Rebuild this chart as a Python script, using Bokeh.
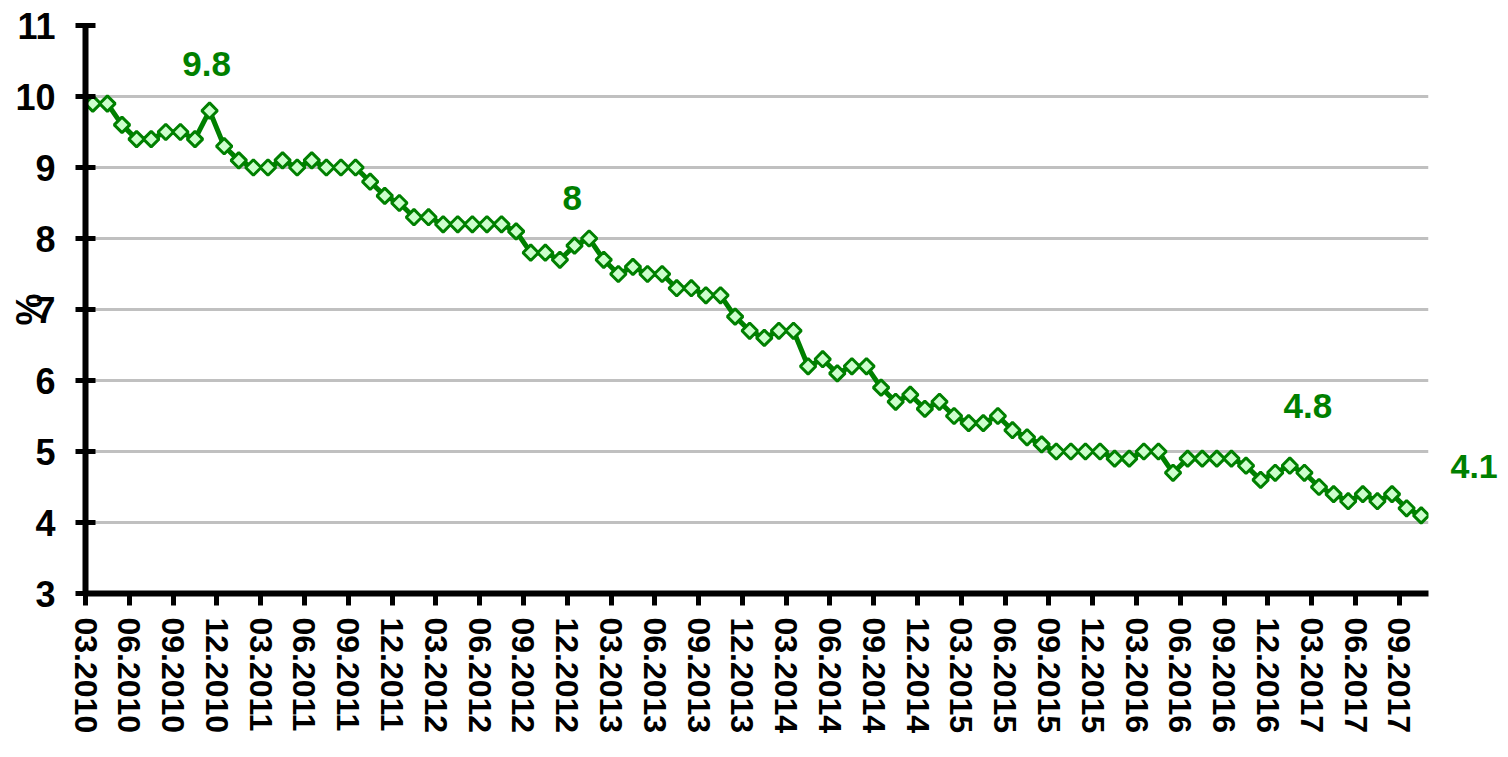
from math import pi
from bokeh.plotting import figure
from bokeh.models import Range1d, FixedTicker, Label, LinearAxis
from bokeh.embed import file_html
from bokeh.resources import INLINE

# Monthly values, 03.2010 .. 10.2017 (%)
values = [
    9.9, 9.9, 9.6, 9.4, 9.4, 9.5, 9.5, 9.4, 9.8, 9.3,
    9.1, 9.0, 9.0, 9.1, 9.0, 9.1, 9.0, 9.0, 9.0, 8.8,
    8.6, 8.5, 8.3, 8.3, 8.2, 8.2, 8.2, 8.2, 8.2, 8.1,
    7.8, 7.8, 7.7, 7.9, 8.0, 7.7, 7.5, 7.6, 7.5, 7.5,
    7.3, 7.3, 7.2, 7.2, 6.9, 6.7, 6.6, 6.7, 6.7, 6.2,
    6.3, 6.1, 6.2, 6.2, 5.9, 5.7, 5.8, 5.6, 5.7, 5.5,
    5.4, 5.4, 5.5, 5.3, 5.2, 5.1, 5.0, 5.0, 5.0, 5.0,
    4.9, 4.9, 5.0, 5.0, 4.7, 4.9, 4.9, 4.9, 4.9, 4.8,
    4.6, 4.7, 4.8, 4.7, 4.5, 4.4, 4.3, 4.4, 4.3, 4.4,
    4.2, 4.1,
]

tick_labels = [
    "03.2010", "06.2010", "09.2010", "12.2010",
    "03.2011", "06.2011", "09.2011", "12.2011",
    "03.2012", "06.2012", "09.2012", "12.2012",
    "03.2013", "06.2013", "09.2013", "12.2013",
    "03.2014", "06.2014", "09.2014", "12.2014",
    "03.2015", "06.2015", "09.2015", "12.2015",
    "03.2016", "06.2016", "09.2016", "12.2016",
    "03.2017", "06.2017", "09.2017",
]

y_ticks = [3, 4, 5, 6, 7, 8, 9, 10, 11]
y_title = "%"

# indices of the annotated points (the last one is labelled beside the plot)
annotated = [8, 34, 82]
last_index = len(values) - 1

GREEN = "#008000"
FONT = "Liberation Sans"

idx = list(range(len(values)))

p = figure(width=1500, height=749, output_backend="svg", toolbar_location=None,
           x_range=Range1d(-0.5, len(values) - 0.5), y_range=Range1d(3, 11),
           min_border_left=85, min_border_right=70, min_border_top=25, min_border_bottom=156)
p.outline_line_color = None
p.background_fill_color = "white"
p.border_fill_color = "white"

# x axis: ticks on category boundaries every 3 months
tick_pos = [i - 0.5 for i in range(0, len(values), 3)][:len(tick_labels)]
p.xaxis.ticker = FixedTicker(ticks=tick_pos)
p.xaxis.major_label_overrides = {t: lab for t, lab in zip(tick_pos, tick_labels)}
p.xaxis.major_label_orientation = "vertical"
p.xaxis.minor_tick_line_color = None
p.xaxis.major_tick_in = 0
p.xaxis.major_tick_out = 12
p.xaxis.major_label_standoff = 12

p.yaxis.ticker = FixedTicker(ticks=y_ticks)
p.yaxis.minor_tick_line_color = None
p.yaxis.major_tick_in = 10
p.yaxis.major_tick_out = 10
p.yaxis.major_label_standoff = 20
p.yaxis.axis_label = y_title
p.yaxis.axis_label_standoff = -38
p.yaxis.axis_label_text_font = FONT
p.yaxis.axis_label_text_font_style = "bold"
p.yaxis.axis_label_text_font_size = "36px"
p.yaxis.axis_label_text_color = "black"

for ax, fs in ((p.xaxis, "32px"), (p.yaxis, "36px")):
    ax.axis_line_color = "black"
    ax.axis_line_width = 6
    ax.major_tick_line_color = "black"
    ax.major_tick_line_width = 5
    ax.major_label_text_font = FONT
    ax.major_label_text_font_style = "bold"
    ax.major_label_text_font_size = fs
    ax.major_label_text_color = "black"

p.xgrid.visible = False
p.ygrid.grid_line_color = "#c0c0c0"
p.ygrid.grid_line_width = 3

p.line(idx, values, line_color=GREEN, line_width=5)
p.scatter(idx, values, marker="square", size=11, angle=pi / 4,
          fill_color="#ccffcc", line_color=GREEN, line_width=3)


def fmt(v):
    return str(int(v)) if v == int(v) else str(v)


# value labels (offsets in pixels from their points)
offsets = {8: (-3, 47), 34: (-17, 41), 82: (18, 60)}
for i in annotated:
    dx, dy = offsets[i]
    v = values[i]
    p.add_layout(Label(x=i, y=v, x_offset=dx, y_offset=dy, text=fmt(v),
                       text_font=FONT, text_font_style="bold", text_font_size="35px",
                       text_color=GREEN, text_align="center", text_baseline="middle"))

# label of the last value, to the right of the plot area (0.69 units above the point)
v_last = values[last_index]
y_last_label = v_last + 0.69
right_ax = LinearAxis(ticker=FixedTicker(ticks=[y_last_label]),
                      major_label_overrides={y_last_label: fmt(v_last)},
                      axis_line_color=None, major_tick_line_color=None,
                      minor_tick_line_color=None, major_tick_out=0, major_tick_in=0,
                      major_label_standoff=22, major_label_text_font=FONT,
                      major_label_text_font_style="bold", major_label_text_font_size="34px",
                      major_label_text_color=GREEN)
p.add_layout(right_ax, "right")

open("out.html", "w").write(file_html(p, INLINE))
